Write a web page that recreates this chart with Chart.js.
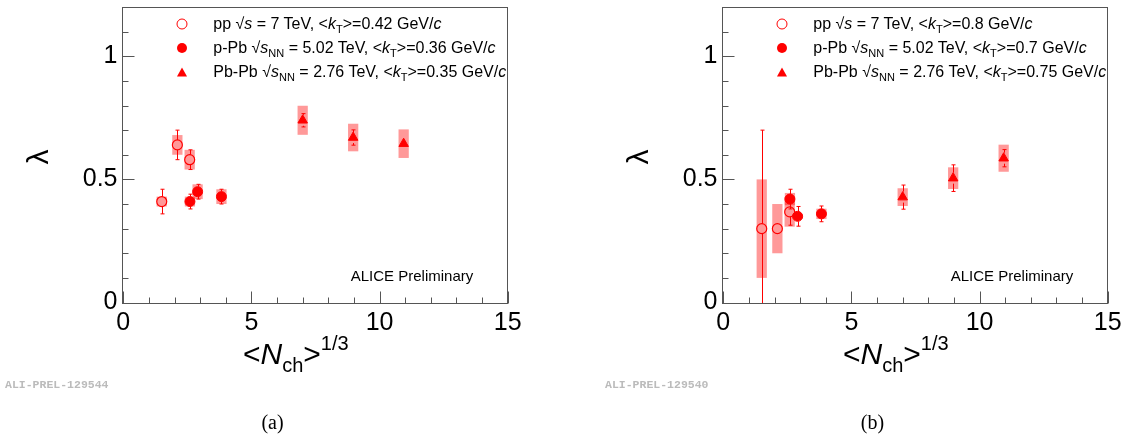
<!DOCTYPE html>
<html>
<head>
<meta charset="utf-8">
<script src="https://cdn.jsdelivr.net/npm/chart.js@4.4.1/dist/chart.umd.min.js"></script>
<style>
body { margin: 0; background: #fff; }
#page { position: relative; width: 1130px; height: 434px; overflow: hidden; font-family: "Liberation Sans", Arial, sans-serif; }
.panel { position: absolute; top: 0; height: 434px; }
.t { position: absolute; white-space: nowrap; color: #000; }
.leg { font-size: 16px; line-height: 18px; transform: translateY(-50%); }
sub { font-size: 11px; vertical-align: -4px; line-height: 0; }
.mk { position: absolute; transform: translate(-50%, -50%); }
.open { width: 9px; height: 9px; border: 1.3px solid #f00; border-radius: 50%; }
.full { width: 10px; height: 10px; background: #f00; border-radius: 50%; }
.tri { width: 0; height: 0; border-left: 5px solid transparent; border-right: 5px solid transparent; border-bottom: 9px solid #f00; }
.xt { font-size: 30px; line-height: 34px; }
.xt .sb { font-size: 20px; position: relative; top: 8px; }
.xt .sp { font-size: 20px; position: relative; top: -14px; }
.yt { font-size: 30px; line-height: 30px; transform: translate(-50%, -50%) rotate(-90deg); }
.alice { font-size: 15px; line-height: 18px; transform: translateY(-50%); }
.prel { font-family: "Liberation Mono", monospace; font-weight: bold; font-size: 11.5px; color: #bbb; transform: translateY(-50%); }
.cap { font-family: "Liberation Serif", serif; font-size: 20px; transform: translate(-50%, -50%); }
</style>
</head>
<body>
<div id="page">
  <div class="panel" style="left:0;width:600px"><canvas id="chartA"></canvas></div>
  <div class="panel" style="left:600px;width:530px"><canvas id="chartB"></canvas></div>
</div>
<script>
//axis ticks that carry a label
const xTickLabels = [0, 5, 10, 15];
const yTickLabels = [0, 0.5, 1];

//panel (a)
const ppX_a = [1.5, 2.11, 2.59];
const ppY_a = [0.41, 0.64, 0.58];
const ppStat_a = [0.05, 0.06, 0.04];
const ppSys_a = [0.02, 0.04, 0.04];
const pPbX_a = [2.6, 2.9, 3.83];
const pPbY_a = [0.41, 0.45, 0.43];
const pPbStat_a = [0.03, 0.03, 0.03];
const pPbSys_a = [0.02, 0.03, 0.03];
const PbPbX_a = [7.0, 8.97, 10.94];
const PbPbY_a = [0.74, 0.67, 0.645];
const PbPbStat_a = [0.027, 0.031, 0.02];
const PbPbSys_a = [0.059, 0.056, 0.058];
const kT_a = ["0.42", "0.36", "0.35"];

//panel (b)
const ppX_b = [1.5, 2.11, 2.59];
const ppY_b = [0.3, 0.3, 0.368];
const ppStat_b = [0.4, 0.02, 0.054];
const ppSys_b = [0.2, 0.1, 0.06];
const pPbX_b = [2.6, 2.9, 3.83];
const pPbY_b = [0.42, 0.35, 0.36];
const pPbStat_b = [0.04, 0.04, 0.032];
const pPbSys_b = [0.025, 0.01, 0.021];
const PbPbX_b = [7.0, 8.97, 10.94];
const PbPbY_b = [0.428, 0.505, 0.586];
const PbPbStat_b = [0.049, 0.054, 0.035];
const PbPbSys_b = [0.036, 0.044, 0.055];
const kT_b = ["0.8", "0.7", "0.75"];

const red = "#ff0000";
const boxColor = "rgba(255,0,0,0.4)";
const frameColor = "#555";
const boxHalfWidth = 0.2; //in x units
const fontFamily = "'Liberation Sans', Arial, sans-serif";

const points = (xs, ys) => xs.map((v, i) => ({ x: v, y: ys[i] }));

//systematic boxes, stat bars, ROOT-like frame with inward ticks
const rootPlot = {
    id: "rootPlot",
    beforeDatasetsDraw(chart) {
        const { ctx, chartArea: a, scales: { x, y } } = chart;
        ctx.save();
        ctx.beginPath();
        ctx.rect(a.left, a.top, a.right - a.left, a.bottom - a.top);
        ctx.clip();
        chart.data.datasets.forEach((ds) => {
            ds.data.forEach((p, i) => {
                const px = x.getPixelForValue(p.x);
                const hw = x.getPixelForValue(p.x + boxHalfWidth) - px;
                const top = y.getPixelForValue(p.y + ds.sys[i]);
                const bot = y.getPixelForValue(p.y - ds.sys[i]);
                ctx.fillStyle = boxColor;
                ctx.fillRect(px - hw, top, 2 * hw, bot - top);
            });
        });
        chart.data.datasets.forEach((ds) => {
            const r = ds.pointRadius;
            ds.data.forEach((p, i) => {
                const px = Math.round(x.getPixelForValue(p.x)) + 0.5;
                const py = y.getPixelForValue(p.y);
                const top = y.getPixelForValue(p.y + ds.stat[i]);
                const bot = y.getPixelForValue(p.y - ds.stat[i]);
                ctx.strokeStyle = red;
                ctx.lineWidth = 1;
                ctx.beginPath();
                if (py - top > r) {
                    ctx.moveTo(px, top); ctx.lineTo(px, py - r);
                    ctx.moveTo(px - 2, top); ctx.lineTo(px + 2, top);
                }
                if (bot - py > r) {
                    ctx.moveTo(px, py + r); ctx.lineTo(px, bot);
                    ctx.moveTo(px - 2, bot); ctx.lineTo(px + 2, bot);
                }
                ctx.stroke();
            });
        });
        ctx.restore();
    },
    afterDraw(chart) {
        const { ctx, chartArea: a, scales: { x, y } } = chart;
        ctx.save();
        ctx.strokeStyle = frameColor;
        ctx.lineWidth = 1;
        const l = Math.round(a.left) + 0.5, r = Math.round(a.right) - 0.5;
        const t = Math.round(a.top) + 0.5, b = Math.round(a.bottom) - 0.5;
        ctx.strokeRect(l, t, r - l, b - t);
        ctx.beginPath();
        //x ticks every 1, long every 5
        for (let i = 0; i <= 15; i++) {
            const px = Math.round(x.getPixelForValue(i)) + 0.5;
            const len = i % 5 === 0 ? 12 : 6;
            ctx.moveTo(px, b); ctx.lineTo(px, b - len);
        }
        //y ticks every 0.1, long every 0.5
        for (let i = 0; i < 12; i++) {
            const py = Math.round(y.getPixelForValue(i / 10)) + 0.5;
            const len = i % 5 === 0 ? 12 : 6;
            ctx.moveTo(l, py); ctx.lineTo(l + len, py);
        }
        ctx.stroke();
        ctx.restore();
    },
};

const makeChart = (id, rightPad, pp, pPb, PbPb) => new Chart(document.getElementById(id), {
    type: "scatter",
    plugins: [rootPlot],
    data: {
        datasets: [
            { label: "pp", data: points(pp[0], pp[1]), stat: pp[2], sys: pp[3],
              pointStyle: "circle", pointRadius: 5, pointBorderWidth: 1.2,
              pointBackgroundColor: "rgba(0,0,0,0)", pointBorderColor: red },
            { label: "p-Pb", data: points(pPb[0], pPb[1]), stat: pPb[2], sys: pPb[3],
              pointStyle: "circle", pointRadius: 5, pointBorderWidth: 1,
              pointBackgroundColor: red, pointBorderColor: red },
            { label: "Pb-Pb", data: points(PbPb[0], PbPb[1]), stat: PbPb[2], sys: PbPb[3],
              pointStyle: "triangle", pointRadius: 5.5, pointBorderWidth: 1,
              pointBackgroundColor: red, pointBorderColor: red },
        ],
    },
    options: {
        responsive: true,
        maintainAspectRatio: false,
        animation: false,
        events: [],
        layout: { padding: { left: 0, top: 7, right: rightPad, bottom: 90 } },
        plugins: { legend: { display: false }, tooltip: { enabled: false } },
        scales: {
            x: {
                type: "linear", min: -0.07, max: 15,
                afterBuildTicks: (s) => { s.ticks = xTickLabels.map((v) => ({ value: v })); },
                afterFit: (s) => { s.height = 40; s.paddingLeft = 0; s.paddingRight = 0; },
                ticks: { font: { size: 25, family: fontFamily }, color: "#000", padding: 4, maxRotation: 0, autoSkip: false },
                grid: { display: false, drawTicks: false },
                border: { display: false },
            },
            y: {
                type: "linear", min: -0.006, max: 1.2,
                afterBuildTicks: (s) => { s.ticks = yTickLabels.map((v) => ({ value: v })); },
                afterFit: (s) => { s.width = 121.5; s.paddingTop = 0; s.paddingBottom = 0; },
                ticks: { font: { size: 25, family: fontFamily }, color: "#000", padding: 4, autoSkip: false,
                         callback: (v) => String(v) },
                grid: { display: false, drawTicks: false },
                border: { display: false },
            },
        },
    },
});

makeChart("chartA", 92.3,
    [ppX_a, ppY_a, ppStat_a, ppSys_a], [pPbX_a, pPbY_a, pPbStat_a, pPbSys_a], [PbPbX_a, PbPbY_a, PbPbStat_a, PbPbSys_a]);
makeChart("chartB", 22.3,
    [ppX_b, ppY_b, ppStat_b, ppSys_b], [pPbX_b, pPbY_b, pPbStat_b, pPbSys_b], [PbPbX_b, PbPbY_b, PbPbStat_b, PbPbSys_b]);

//texts: legend, titles, labels
const page = document.getElementById("page");
const addEl = (cls, left, top, html) => {
    const d = document.createElement("div");
    d.className = cls;
    d.style.left = left + "px";
    d.style.top = top + "px";
    d.innerHTML = html;
    page.appendChild(d);
};
const addPanelTexts = (dx, kT, prelId, cap) => {
    const rows = [
        ["open", `pp √<i>s</i> = 7 TeV, &lt;<i>k</i><sub>T</sub>&gt;=${kT[0]} GeV/<i>c</i>`],
        ["full", `p-Pb √<i>s</i><sub>NN</sub> = 5.02 TeV, &lt;<i>k</i><sub>T</sub>&gt;=${kT[1]} GeV/<i>c</i>`],
        ["tri", `Pb-Pb √<i>s</i><sub>NN</sub> = 2.76 TeV, &lt;<i>k</i><sub>T</sub>&gt;=${kT[2]} GeV/<i>c</i>`],
    ];
    rows.forEach((r, i) => {
        addEl("mk " + r[0], dx + 181.7, 24 + 24 * i, "");
        addEl("t leg", dx + 213.3, 24 + 24 * i, r[1]);
    });
    addEl("t alice", dx + 350.7, 275.7, "ALICE Preliminary");
    addEl("t yt", dx + 38, 157, "λ");
    addEl("t xt", dx + 243, 337, `&lt;<i>N</i><span class="sb">ch</span>&gt;<span class="sp">1/3</span>`);
    addEl("t prel", dx + 5, 384.3, prelId);
    addEl("t cap", dx + 272.5, 422, cap);
};
addPanelTexts(0, kT_a, "ALI-PREL-129544", "(a)");
addPanelTexts(600, kT_b, "ALI-PREL-129540", "(b)");
</script>
</body>
</html>
